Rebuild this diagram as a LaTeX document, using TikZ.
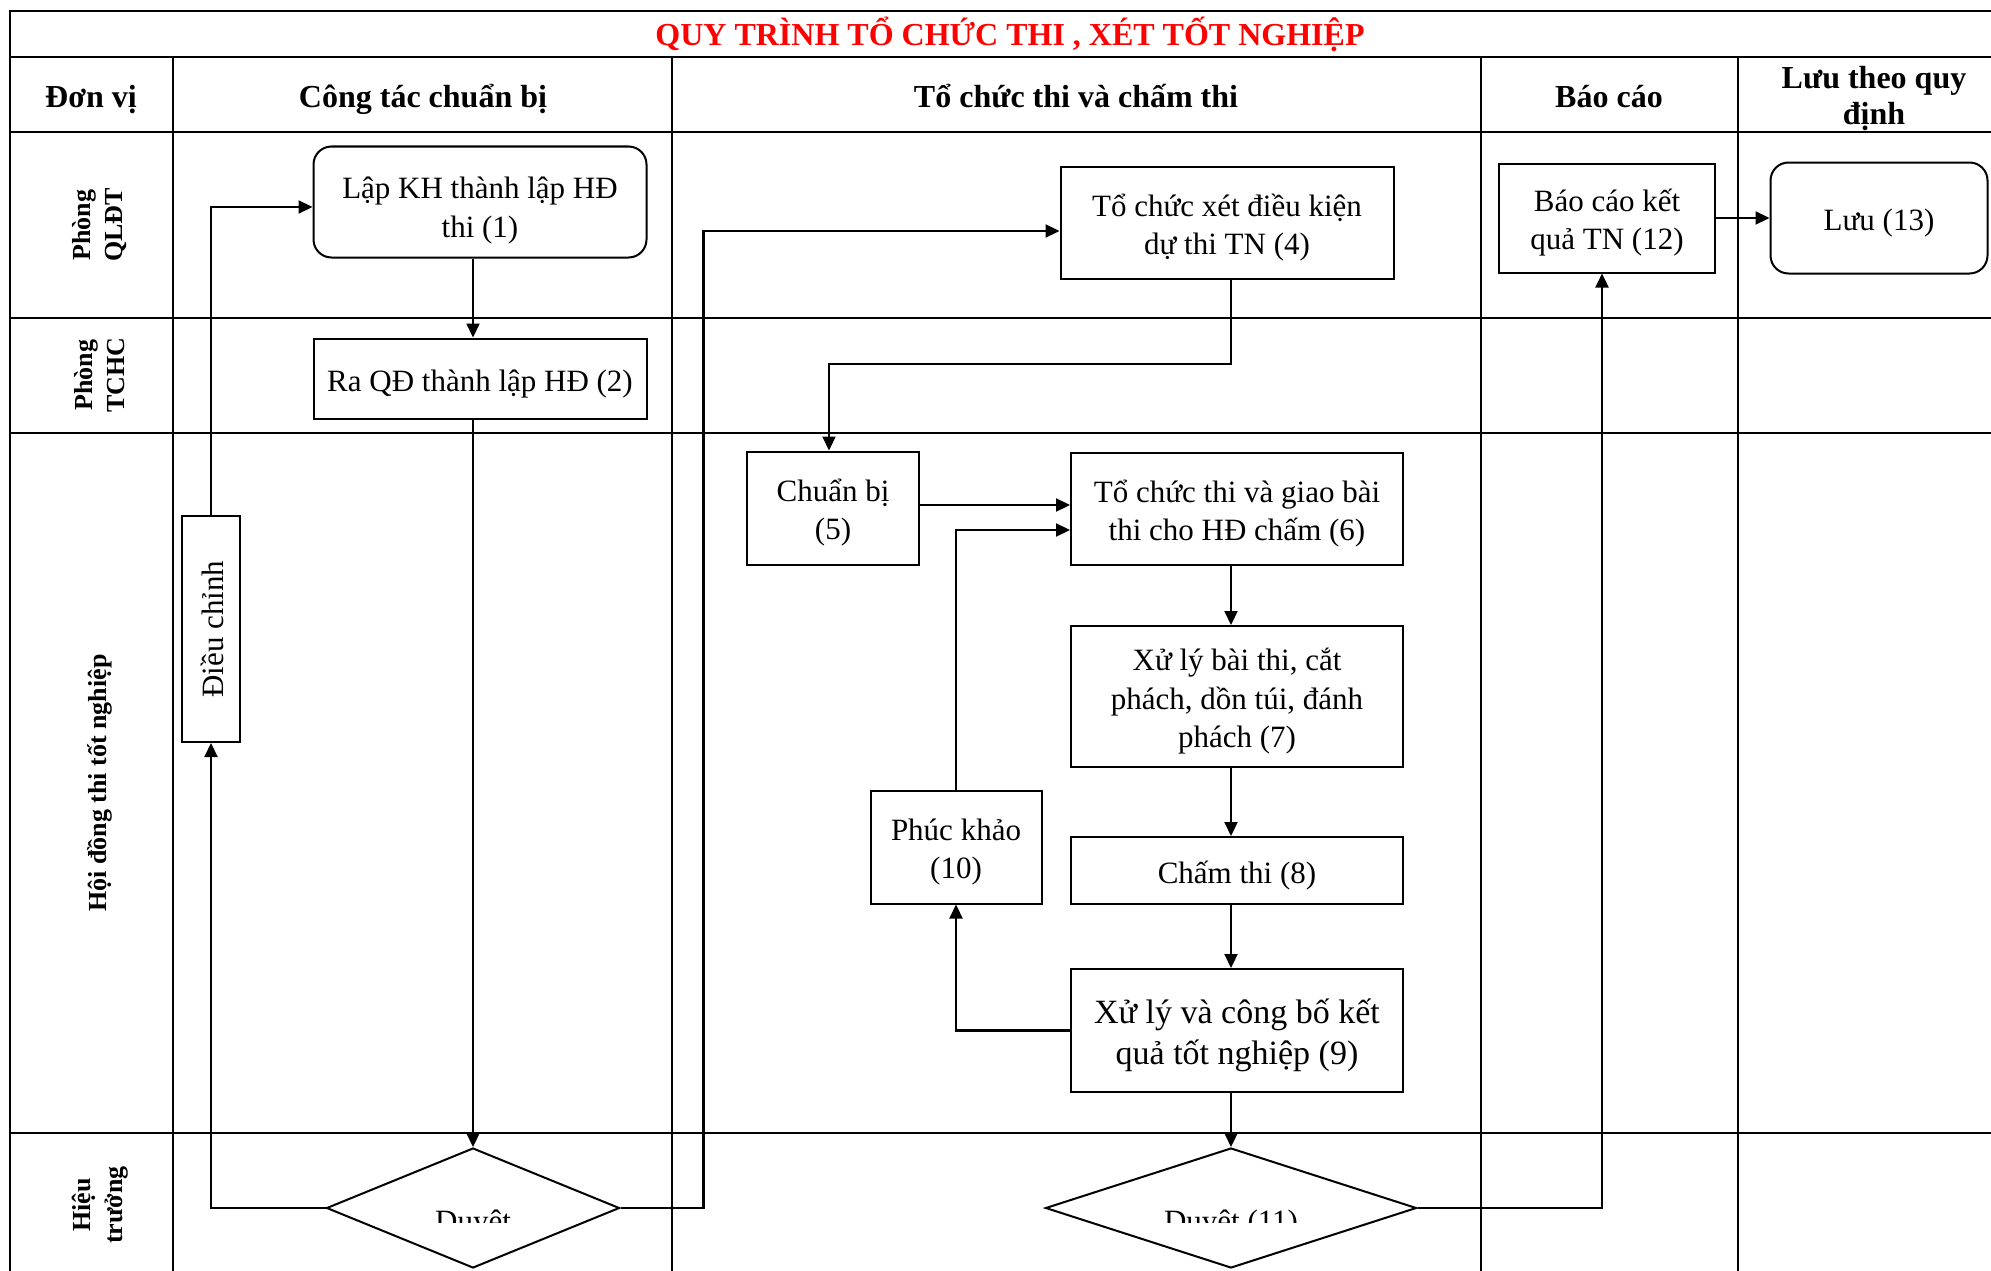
\documentclass[tikz,border=0pt]{standalone}
\usepackage{fontspec}
\setmainfont{Liberation Serif}
\usetikzlibrary{positioning,arrows.meta,shapes.geometric}

\begin{document}
\begin{tikzpicture}[x=1pt, y=-1pt,
    lanerule/.style={line width=2.6pt},
    box/.style={draw, line width=2pt, fill=white, align=center, inner sep=0pt,
        font=\fontsize{31}{38.5}\selectfont, text height=32.5pt, text depth=7.5pt},
    twoline/.style={text height=71pt},
    threeline/.style={text height=109.5pt},
    rbox/.style={box, rounded corners=18pt},
    decision/.style={draw, diamond, line width=2pt, fill=white, inner sep=0pt},
    flow/.style={draw, line width=2.2pt, -{Triangle[length=14pt,width=13pt]}},
    head/.style={font=\fontsize{32}{36}\selectfont\bfseries, align=center},
    lane/.style={font=\fontsize{26}{32}\selectfont\bfseries, align=center, rotate=90}]
    \useasboundingbox (0,0) rectangle (1991,1271);
    \clip (0,0) rectangle (1991,1271);

    % khung bang
    \draw[lanerule] (10,11) rectangle (2010,1290);
    \draw[lanerule] (10,57) -- (2010,57);
    \foreach \y in {132,318,433,1133}
        \draw[lanerule] (10,\y) -- (2010,\y);
    \foreach \x in {173,672,1481,1738}
        \draw[lanerule] (\x,57) -- (\x,1290);

    \node[font=\fontsize{32}{36}\selectfont\bfseries, text=red] (title) at (1010,34)
        {QUY TRÌNH TỔ CHỨC THI , XÉT TỐT NGHIỆP};
    \node[head, anchor=base] (h0) at (91,108) {Đơn vị};
    \node[head, anchor=base] (h1) at (423,108) {Công tác chuẩn bị};
    \node[head, anchor=base] (h2) at (1076,108) {Tổ chức thi và chấm thi};
    \node[head, anchor=base] (h3) at (1609,108) {Báo cáo};
    \node[head] (h4) at (1874,99) {Lưu theo quy\\định};

    \node[lane] (l1) at (100,225) {Phòng\\QLĐT};
    \node[lane] (l2) at (100,375) {Phòng\\TCHC};
    \node[lane] (l3) at (100,783) {Hội đồng thi tốt nghiệp};
    \node[lane] (l4) at (100,1205) {Hiệu\\trưởng};

    % cac buoc
    \node[rbox, text height=78pt, minimum width=333, minimum height=111] (b1) at (480,202) {Lập KH thành lập HĐ\\thi (1)};
    \node[box, minimum width=333, minimum height=80, below=79pt of b1] (b2) {Ra QĐ thành lập HĐ (2)};
    \node[decision, minimum width=293, minimum height=120] (d1) at (473,1208) {};
    \node[box, rotate=90, minimum width=226, minimum height=58] (bdc) at (211,629) {Điều chỉnh};

    \node[box, twoline, minimum width=333, minimum height=112] (b4) at (1227,223) {Tổ chức xét điều kiện\\dự thi TN (4)};
    \node[box, twoline, minimum width=172, minimum height=113] (b5) at (833,508) {Chuẩn bị\\(5)};
    \node[box, twoline, minimum width=332, minimum height=112] (b6) at (1237,509) {Tổ chức thi và giao bài\\thi cho HĐ chấm (6)};
    \node[box, threeline, minimum width=332, minimum height=141, below=59pt of b6] (b7) {Xử lý bài thi, cắt\\phách, dồn túi, đánh\\phách (7)};
    \node[box, minimum width=332, minimum height=67, below=68pt of b7] (b8) {Chấm thi (8)};
    \node[box, font=\fontsize{34}{41}\selectfont, text height=75pt, text depth=8pt,
        minimum width=332, minimum height=123, below=63pt of b8] (b9) {Xử lý và công bố kết\\quả tốt nghiệp (9)};
    \node[box, twoline, minimum width=171, minimum height=113] (b10) at (956,847) {Phúc khảo\\(10)};
    \node[decision, minimum width=371, minimum height=120] (d11) at (1231,1208) {};

    \node[box, twoline, minimum width=216, minimum height=109] (b12) at (1607,218) {Báo cáo kết\\quả TN (12)};
    \node[rbox, minimum width=217, minimum height=111] (b13) at (1879,218) {Lưu (13)};

    % chu trong hinh thoi bi cat
    \begin{scope}
        \clip (300,1150) rectangle (1500,1222);
        \node[font=\fontsize{31}{37}\selectfont, anchor=base] (t1) at (473,1231) {Duyệt};
        \node[font=\fontsize{31}{37}\selectfont, anchor=base] (t11) at (1231,1231) {Duyệt (11)};
    \end{scope}

    \draw[flow] (b1.south -| d1) -- (b2.north -| d1);
    \draw[flow] (b2.south -| d1) -- (d1);
    \draw[flow] (d1) -| (bdc);
    \draw[flow] (bdc) |- ([yshift=-5pt]b1.west);
    \draw[flow] (d1.east) -- ++(83,0) |- ([yshift=-8pt]b4.west);
    \draw[flow] (b4.south -| d11) -- ++(0,84) -| ([xshift=-4pt]b5.north);
    \draw[flow] ([yshift=3pt]b5.east) -- ([yshift=3pt]b5.east -| b6.west);
    \draw[flow] (b6.south -| d11) -- (b7.north -| d11);
    \draw[flow] (b7.south -| d11) -- (b8.north -| d11);
    \draw[flow] (b8.south -| d11) -- (b9.north -| d11);
    \draw[flow] (b9) -| (b10);
    \draw[flow] (b10) |- ([yshift=-21pt]b6.west);
    \draw[flow] (b9.south -| d11) -- (d11);
    \draw[flow] (d11) -| ([xshift=-5pt]b12.south);
    \draw[flow] (b12) -- (b13);
\end{tikzpicture}
\end{document}
